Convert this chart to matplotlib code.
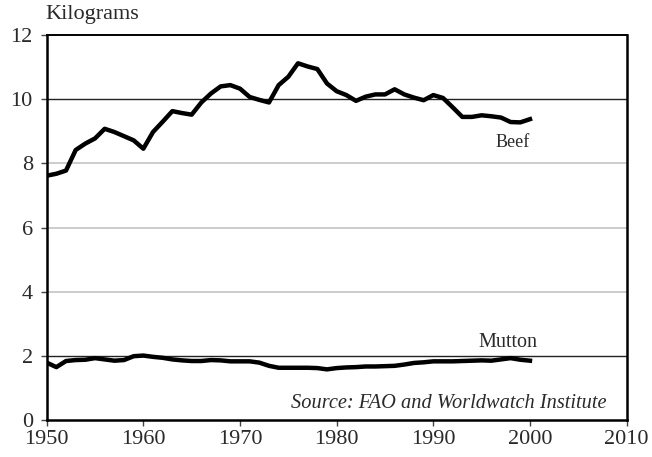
import matplotlib
matplotlib.use("Agg")
import matplotlib.pyplot as plt

years = list(range(1950, 2001))
beef = [7.62, 7.68, 7.78, 8.42, 8.62, 8.78, 9.08, 8.98, 8.85, 8.72,
        8.46, 8.98, 9.30, 9.63, 9.57, 9.52, 9.90, 10.18, 10.40, 10.44,
        10.33, 10.07, 9.98, 9.90, 10.44, 10.70, 11.12, 11.02, 10.94, 10.49,
        10.25, 10.13, 9.95, 10.08, 10.15, 10.15, 10.31, 10.15, 10.05, 9.97,
        10.13, 10.04, 9.75, 9.45, 9.45, 9.50, 9.47, 9.43, 9.29, 9.28, 9.38]
mutton = [1.80, 1.66, 1.85, 1.88, 1.89, 1.94, 1.90, 1.86, 1.88, 2.00,
          2.02, 1.98, 1.95, 1.90, 1.87, 1.85, 1.85, 1.88, 1.87, 1.84,
          1.84, 1.84, 1.80, 1.70, 1.64, 1.64, 1.64, 1.64, 1.63, 1.59,
          1.63, 1.65, 1.66, 1.68, 1.68, 1.69, 1.70, 1.74, 1.79, 1.81,
          1.84, 1.84, 1.84, 1.85, 1.86, 1.87, 1.86, 1.90, 1.94, 1.89, 1.86]
xticks = [1950, 1960, 1970, 1980, 1990, 2000, 2010]
yticks = [0, 2, 4, 6, 8, 10, 12]
dark_grid = [2, 10]
light_grid = [4, 6, 8]

plt.rcParams['font.family'] = ['Liberation Serif', 'DejaVu Serif']

fig = plt.figure(figsize=(6.52, 4.57), dpi=100)
ax = fig.add_axes([0.0716, 0.080, 0.8895, 0.8434])

for v in light_grid:
    ax.axhline(v, color='#c8c8c8', lw=1.3, zorder=1)
for v in dark_grid:
    ax.axhline(v, color='#222222', lw=1.0, zorder=1)

ax.plot(years, beef, color='black', lw=3.2, solid_joinstyle='round', zorder=3)
ax.plot(years, mutton, color='black', lw=3.2, solid_joinstyle='round', zorder=3)

ax.set_xlim(1950, 2010)
ax.set_ylim(0, 12)
ax.set_xticks(xticks)
ax.set_yticks(yticks)
ax.tick_params(axis='both', direction='out', length=4, width=1, color='#444444',
               labelsize=16, labelcolor='#2a2a2a')
ax.tick_params(axis='x', pad=3)
ax.tick_params(axis='y', pad=6)

for s in ['left', 'bottom', 'right']:
    ax.spines[s].set_linewidth(1.8)
ax.spines['top'].set_linewidth(1.4)

ax.text(1998.2, 8.65, 'Beef', fontsize=13, ha='center', va='center', color='#2a2a2a')
ax.text(1997.7, 2.43, 'Mutton', fontsize=14.5, ha='center', va='center', color='#2a2a2a')
ax.text(0.966, 0.043, 'Source: FAO and Worldwatch Institute', transform=ax.transAxes,
        fontsize=14.7, style='italic', ha='right', va='center', color='#2a2a2a')
fig.text(45 / 652, 1 - 15 / 457, 'Kilograms', fontsize=16, ha='left', va='center',
         color='#2a2a2a')

fig.savefig('out.png', dpi=100)
